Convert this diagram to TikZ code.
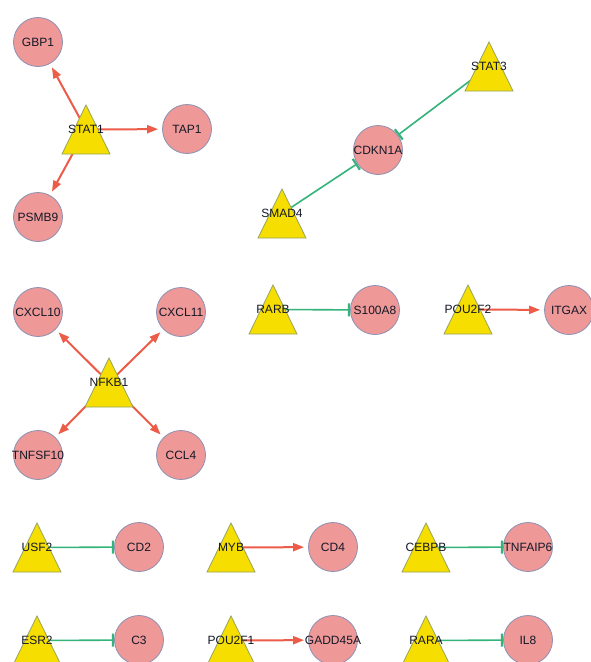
\documentclass[tikz,border=0pt]{standalone}
\usepackage{fontspec}
\setmainfont{Liberation Sans}
\usetikzlibrary{arrows.meta}
\pgfdeclarelayer{bg}
\pgfsetlayers{bg,main}
\definecolor{gfill}{RGB}{238,152,152}
\definecolor{gline}{RGB}{140,145,178}
\definecolor{tfill}{RGB}{246,222,0}
\definecolor{tline}{RGB}{150,165,95}
\definecolor{actc}{RGB}{236,92,72}
\definecolor{inhc}{RGB}{52,180,122}
\definecolor{txt}{RGB}{20,24,38}
\newcommand\lbl[1]{\makebox[0pt][c]{#1}}
\tikzset{
  gene/.style={circle, draw=gline, line width=0.8pt, fill=gfill, minimum size=49pt,
    inner sep=0pt, font=\fontsize{12}{14}\selectfont, text=txt},
  tf/.style={rectangle, minimum width=50pt, minimum height=51pt, inner sep=0pt,
    font=\fontsize{12}{14}\selectfont, text=txt,
    path picture={\draw[tline, fill=tfill, line width=0.8pt]
      ([shift={(1pt,1pt)}]path picture bounding box.south west) --
      ([shift={(-1pt,1pt)}]path picture bounding box.south east) --
      ([shift={(0pt,-1pt)}]path picture bounding box.north) -- cycle;}},
  actedge/.style={draw=actc, line width=2pt, -{Triangle[length=11pt,width=8pt]}, shorten >=4pt},
  inhedge/.style={draw=inhc, line width=1.6pt, -{Bar[width=13pt,line width=2.2pt]}},
}
\begin{document}
\begin{tikzpicture}[x=1pt,y=-1pt]
\useasboundingbox (0,0) rectangle (591,662);
\clip (0,0) rectangle (591,662);
% STAT1 group
\node[tf] (STAT1) at (86,129.5) {\lbl{STAT1}};
\node[gene] (GBP1) at (38,42) {\lbl{GBP1}};
\node[gene] (TAP1) at (187,129) {\lbl{TAP1}};
\node[gene] (PSMB9) at (38,217) {\lbl{PSMB9}};
% CDKN1A group
\node[tf] (STAT3) at (489,66.5) {\lbl{STAT3}};
\node[tf] (SMAD4) at (282,213.5) {\lbl{SMAD4}};
\node[gene] (CDKN1A) at (378,150) {\lbl{CDKN1A}};
% NFKB1 group
\node[tf] (NFKB1) at (109,382.5) {\lbl{NFKB1}};
\node[gene] (CXCL10) at (38,312) {\lbl{CXCL10}};
\node[gene] (CXCL11) at (181,312) {\lbl{CXCL11}};
\node[gene] (TNFSF10) at (38,455) {\lbl{TNFSF10}};
\node[gene] (CCL4) at (181,455) {\lbl{CCL4}};
% pairs
\node[tf] (RARB) at (273,309.5) {\lbl{RARB}};
\node[gene] (S100A8) at (375,310) {\lbl{S100A8}};
\node[tf] (POU2F2) at (468,309.5) {\lbl{POU2F2}};
\node[gene] (ITGAX) at (569,310) {\lbl{ITGAX}};
\node[tf] (USF2) at (37,547.5) {\lbl{USF2}};
\node[gene] (CD2) at (139,547) {\lbl{CD2}};
\node[tf] (MYB) at (231,547.5) {\lbl{MYB}};
\node[gene] (CD4) at (333,547) {\lbl{CD4}};
\node[tf] (CEBPB) at (426,547.5) {\lbl{CEBPB}};
\node[gene] (TNFAIP6) at (528,547) {\lbl{TNFAIP6}};
\node[tf] (ESR2) at (37,640.5) {\lbl{ESR2}};
\node[gene] (C3) at (139,640) {\lbl{C3}};
\node[tf] (POU2F1) at (231,640.5) {\lbl{POU2F1}};
\node[gene] (GADD45A) at (333,640) {\lbl{GADD45A}};
\node[tf] (RARA) at (426,640.5) {\lbl{RARA}};
\node[gene] (IL8) at (528,640) {\lbl{IL8}};
\begin{pgfonlayer}{bg}
\fill[white] (0,0) rectangle (591,662);
\draw[actedge] (STAT1.center) -- (GBP1);
\draw[actedge] (STAT1.center) -- (TAP1);
\draw[actedge] (STAT1.center) -- (PSMB9);
\draw[inhedge] (STAT3.center) -- (CDKN1A);
\draw[inhedge] (SMAD4.center) -- (CDKN1A);
\draw[actedge] (NFKB1.center) -- (CXCL10);
\draw[actedge] (NFKB1.center) -- (CXCL11);
\draw[actedge] (NFKB1.center) -- (TNFSF10);
\draw[actedge] (NFKB1.center) -- (CCL4);
\draw[inhedge] (RARB.center) -- (S100A8);
\draw[actedge] (POU2F2.center) -- (ITGAX);
\draw[inhedge] (USF2.center) -- (CD2);
\draw[actedge] (MYB.center) -- (CD4);
\draw[inhedge] (CEBPB.center) -- (TNFAIP6);
\draw[inhedge] (ESR2.center) -- (C3);
\draw[actedge] (POU2F1.center) -- (GADD45A);
\draw[inhedge] (RARA.center) -- (IL8);
\end{pgfonlayer}
\end{tikzpicture}
\end{document}
